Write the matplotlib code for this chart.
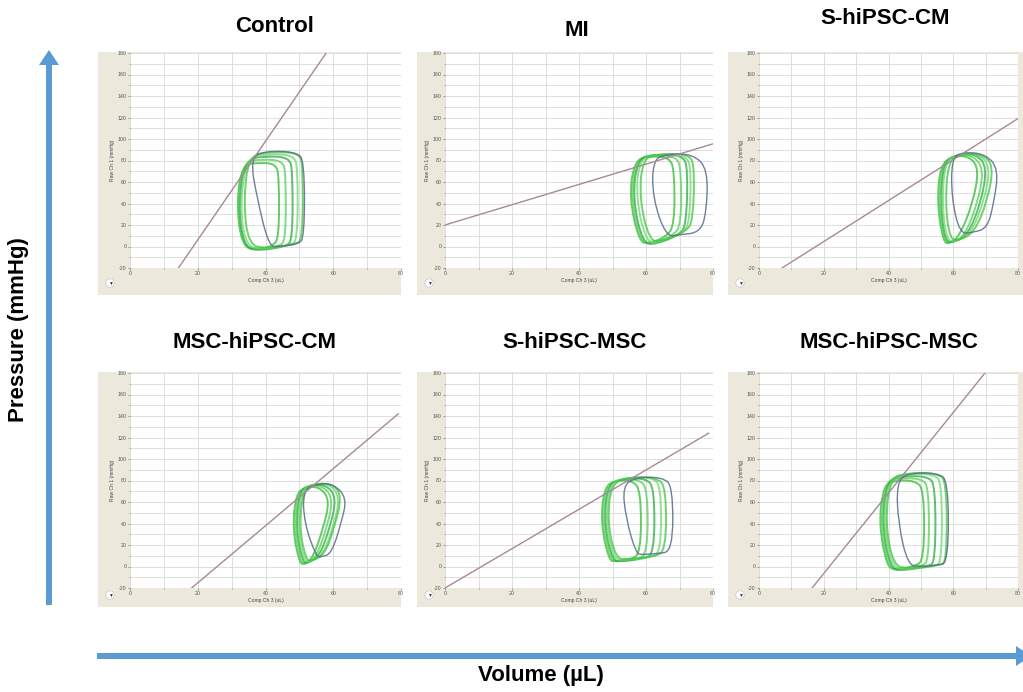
import matplotlib
matplotlib.use("Agg")
import matplotlib.pyplot as plt
from matplotlib.path import Path
from matplotlib.patches import PathPatch, Rectangle, FancyArrow

plt.rcParams['font.family'] = ['Liberation Sans', 'DejaVu Sans']

# panel titles, row by row
titles = ["Control", "MI", "S-hiPSC-CM",
          "MSC-hiPSC-CM", "S-hiPSC-MSC", "MSC-hiPSC-MSC"]

# ESPVR line end points (volume uL, pressure mmHg)
control_espvr = [(14.3, -20), (57.9, 180)]
mi_espvr = [(0, 20), (80, 95.5)]
s_cm_espvr = [(7.1, -20), (80, 119)]
msc_cm_espvr = [(18.2, -20), (79.2, 142)]
s_msc_espvr = [(0, -20), (78.7, 124)]
msc_msc_espvr = [(16.4, -20), (69.8, 180)]

# PV loops: each loop is a list of (volume, pressure) control vertices,
# the last loop of each panel is the dark one
control_loops = [
    [(33, 2), (31.5, 40), (33, 76), (38, 78), (43, 77), (44, 65), (44, 8), (42, 0), (37, -3)],
    [(33, 1), (31.5, 40), (33.5, 79), (39, 81), (45, 80), (46, 68), (46, 6), (44, 0), (37, -4)],
    [(33.5, 0), (32, 40), (34, 81), (40, 84), (47, 83), (48, 70), (48, 6), (46, 0), (38, -4)],
    [(34, 1), (32.5, 40), (34.5, 83), (41, 86), (48.5, 85), (49.5, 72), (49.5, 5), (47, 1), (39, -3)],
    [(35, 2), (33.5, 40), (35, 85), (42, 88), (50, 87), (51, 75), (51, 6), (48.5, 2), (40, -2)],
    [(41, 0), (37.5, 45), (35.5, 82), (40, 89), (49, 88), (51.5, 80), (51.5, 8), (49.5, 2), (44, 0)],
]
mi_loops = [
    [(58, 4), (55, 45), (56.5, 80), (61, 84), (67, 83), (68.5, 70), (68.5, 20), (66, 9), (61, 3)],
    [(58.5, 3), (55.5, 45), (57, 81), (62, 85), (69, 84), (70.5, 72), (70.5, 20), (68, 10), (62, 3)],
    [(59, 3), (56, 45), (57.5, 82), (63, 86), (71, 85), (72.5, 72), (72, 20), (70, 11), (63, 2)],
    [(60, 4), (57, 45), (58, 82), (64, 86), (72, 85), (73.5, 72), (73, 22), (71, 13), (64, 4)],
    [(61, 5), (58, 45), (59, 83), (65, 86), (73, 86), (74.5, 73), (74, 24), (72, 14), (65, 5)],
    [(66, 9), (62, 45), (62, 80), (66, 86), (74, 86), (78.5, 72), (78, 30), (76, 13), (70, 11)],
]
s_cm_loops = [
    [(57, 3), (55, 40), (56, 76), (60, 84), (65, 84), (68, 72), (66, 40), (62, 10), (59, 3)],
    [(57, 4), (55.5, 40), (56.5, 78), (61, 85), (66, 85), (69.5, 72), (67.5, 40), (63.5, 10), (60, 4)],
    [(57.5, 4), (56, 40), (57, 79), (61.5, 86), (67, 86), (70.5, 74), (68.5, 40), (64.5, 11), (60.5, 4)],
    [(58, 5), (56.5, 40), (57.5, 80), (62, 86), (68, 86), (71.5, 74), (69.5, 42), (65.5, 12), (61, 5)],
    [(59, 6), (57.5, 40), (58.5, 80), (62.5, 86), (69, 86), (72.5, 75), (70.5, 42), (66.5, 13), (62, 6)],
    [(62, 12), (59.5, 45), (59.5, 82), (63, 88), (70, 86), (74, 72), (72.5, 40), (70.5, 17), (66, 13)],
]
msc_cm_loops = [
    [(50, 3), (48, 35), (49, 68), (52, 74), (56, 74), (59, 62), (57, 35), (54, 8), (51.5, 2)],
    [(50.5, 3), (48.5, 35), (49.5, 69), (52.5, 75), (57, 75), (60, 63), (58, 35), (55, 9), (52, 2)],
    [(51, 4), (49, 35), (50, 70), (53, 76), (58, 76), (61, 64), (59, 36), (56, 10), (52.5, 3)],
    [(51.5, 5), (49.5, 35), (50.5, 71), (54, 77), (59, 77), (62, 64), (60, 37), (57, 11), (53, 4)],
    [(52, 6), (50, 35), (51, 71), (54.5, 77), (60, 77), (62.5, 65), (60.5, 38), (57.5, 11), (53.5, 5)],
    [(55, 9), (51.5, 40), (51, 70), (55, 77), (60, 77), (64, 64), (62.5, 42), (59.5, 12), (56.5, 9)],
]
s_msc_loops = [
    [(49, 5), (46.5, 40), (47.5, 74), (51, 80), (56, 80), (58.5, 70), (58.5, 12), (55, 6), (51, 5)],
    [(49.5, 5), (47, 40), (48, 75), (52, 81), (58, 81), (60.5, 72), (60.5, 12), (57, 6), (52, 5)],
    [(50, 5), (47.5, 40), (48.5, 76), (53, 82), (60, 82), (62.5, 73), (62.5, 12), (59, 7), (53, 5)],
    [(50.5, 6), (48, 40), (49, 77), (54, 83), (62, 83), (64.5, 74), (64.5, 13), (61, 8), (54, 6)],
    [(51, 7), (48.5, 40), (49.5, 77), (55, 83), (63, 83), (66, 74), (66, 14), (62, 9), (55, 7)],
    [(57, 12), (54, 45), (53, 75), (57, 83), (65, 83), (68, 74), (68, 14), (63, 12), (59, 11)],
]
msc_msc_loops = [
    [(39.5, 0), (37, 40), (38.5, 76), (42, 80), (48, 80), (51, 72), (51, 6), (48, 0), (42, -3)],
    [(40, -1), (37.5, 40), (39, 78), (43, 82), (50, 82), (52.5, 74), (52.5, 5), (50, 0), (43, -4)],
    [(40.5, -1), (38, 40), (39.5, 80), (44, 84), (52, 84), (54.5, 76), (54.5, 4), (52, 0), (44, -4)],
    [(41, 0), (38.5, 40), (40, 81), (45, 86), (54, 86), (56.5, 78), (56.5, 4), (54, 0), (45, -3)],
    [(41.5, 1), (39, 40), (40.5, 82), (45.5, 87), (55, 87), (58, 79), (58, 4), (55.5, 1), (46, -2)],
    [(46, 1), (43, 40), (42.5, 78), (46, 87), (55, 87), (58.5, 80), (58.5, 4), (55, 1), (50, 0)],
]

espvrs = [control_espvr, mi_espvr, s_cm_espvr, msc_cm_espvr, s_msc_espvr, msc_msc_espvr]
loops = [control_loops, mi_loops, s_cm_loops, msc_cm_loops, s_msc_loops, msc_msc_loops]

x_ticks = [0, 20, 40, 60, 80]
y_ticks = [-20, 0, 20, 40, 60, 80, 100, 120, 140, 160, 180]

greens = ['#32bb32', '#55d055', '#28a844', '#6cd86c', '#3ec63e']
dark_col = '#56698a'
espvr_col = '#a8889a'
beige = '#ece9dc'
arrow_col = '#5b9bd5'

W, H = 1023, 692
fig = plt.figure(figsize=(W / 100, H / 100), dpi=100)

# pixel layout of plot areas and beige frames
col_plot = [(130, 271), (445, 268), (759, 259)]
col_frame = [(98, 303), (417, 296), (728, 295)]
row_plot = [(53, 215), (373, 215)]
row_frame = [(52, 243), (372, 235)]
title_pos = [(275, 27), (577, 31), (885, 18), (255, 343), (575, 343), (889, 343)]

# overlay axes in pixel coordinates for frames, arrows and big labels
ov = fig.add_axes([0, 0, 1, 1], zorder=0)
ov.set_xlim(0, W)
ov.set_ylim(H, 0)
ov.axis('off')


def loop_path(pts):
    n = len(pts)
    mids = [((pts[i][0] + pts[(i + 1) % n][0]) / 2, (pts[i][1] + pts[(i + 1) % n][1]) / 2)
            for i in range(n)]
    verts = [mids[-1]]
    codes = [Path.MOVETO]
    for i in range(n):
        verts += [pts[i], mids[i]]
        codes += [Path.CURVE3, Path.CURVE3]
    return Path(verts, codes)


for k in range(6):
    r, c = divmod(k, 3)
    px, pw = col_plot[c]
    py, ph = row_plot[r]
    fx, fw = col_frame[c]
    fy, fh = row_frame[r]

    ov.add_patch(Rectangle((fx, fy), fw, fh, facecolor=beige, edgecolor='none'))
    ov.text(*title_pos[k], titles[k], ha='center', va='center',
            fontsize=16, fontweight='bold')
    # little filter icon at bottom-left of each frame
    ov.text(fx + 12, fy + fh - 12, '▼', ha='center', va='center', fontsize=3.5,
            color='#333333',
            bbox=dict(boxstyle='circle,pad=0.35', fc='white', ec='#bbbbbb', lw=0.4))

    ax = fig.add_axes([px / W, 1 - (py + ph) / H, pw / W, ph / H], zorder=2)
    ax.set_facecolor('white')
    ax.set_xlim(0, 80)
    ax.set_ylim(-20, 180)
    ax.set_xticks(range(0, 81, 10), minor=True)
    ax.set_yticks(range(-20, 181, 10), minor=True)
    ax.set_xticks(x_ticks)
    ax.set_yticks(y_ticks)
    ax.set_xticklabels([str(v) for v in x_ticks])
    ax.set_yticklabels([str(v) for v in y_ticks])
    ax.grid(True, which='both', color='#d9d9d9', lw=0.6)
    ax.set_axisbelow(True)
    ax.tick_params(which='both', labelsize=3.8, length=1.5, width=0.4, colors='#555555', pad=1)
    ax.tick_params(which='minor', length=1)
    for s in ax.spines.values():
        s.set_visible(False)
    ax.set_xlabel('Comp Ch 3 (uL)', fontsize=3.6, labelpad=1, color='#444444')
    ax.set_ylabel('Raw Ch 1 (mmHg)', fontsize=3.6, labelpad=2, color='#444444')

    for j, lp in enumerate(loops[k][:-1]):
        ax.add_patch(PathPatch(loop_path(lp), fill=False, edgecolor=greens[j % len(greens)],
                               lw=1.4, alpha=0.75))
    ax.add_patch(PathPatch(loop_path(loops[k][-1]), fill=False, edgecolor=dark_col,
                           lw=1.0, alpha=0.85))

    (v0, p0), (v1, p1) = espvrs[k]
    ax.plot([v0, v1], [p0, p1], color=espvr_col, lw=1.0, clip_on=True)

# big axis arrows
ov.add_patch(FancyArrow(49, 605, 0, -555, width=6, head_width=20, head_length=15,
                        length_includes_head=True, color=arrow_col, lw=0))
ov.add_patch(FancyArrow(97, 656, 934, 0, width=6, head_width=20, head_length=15,
                        length_includes_head=True, color=arrow_col, lw=0))
ov.text(19, 330, 'Pressure (mmHg)', rotation=90, ha='center', va='center',
        fontsize=16, fontweight='bold')
ov.text(541, 676, 'Volume (µL)', ha='center', va='center',
        fontsize=16, fontweight='bold')

fig.savefig('out.png', dpi=100)
